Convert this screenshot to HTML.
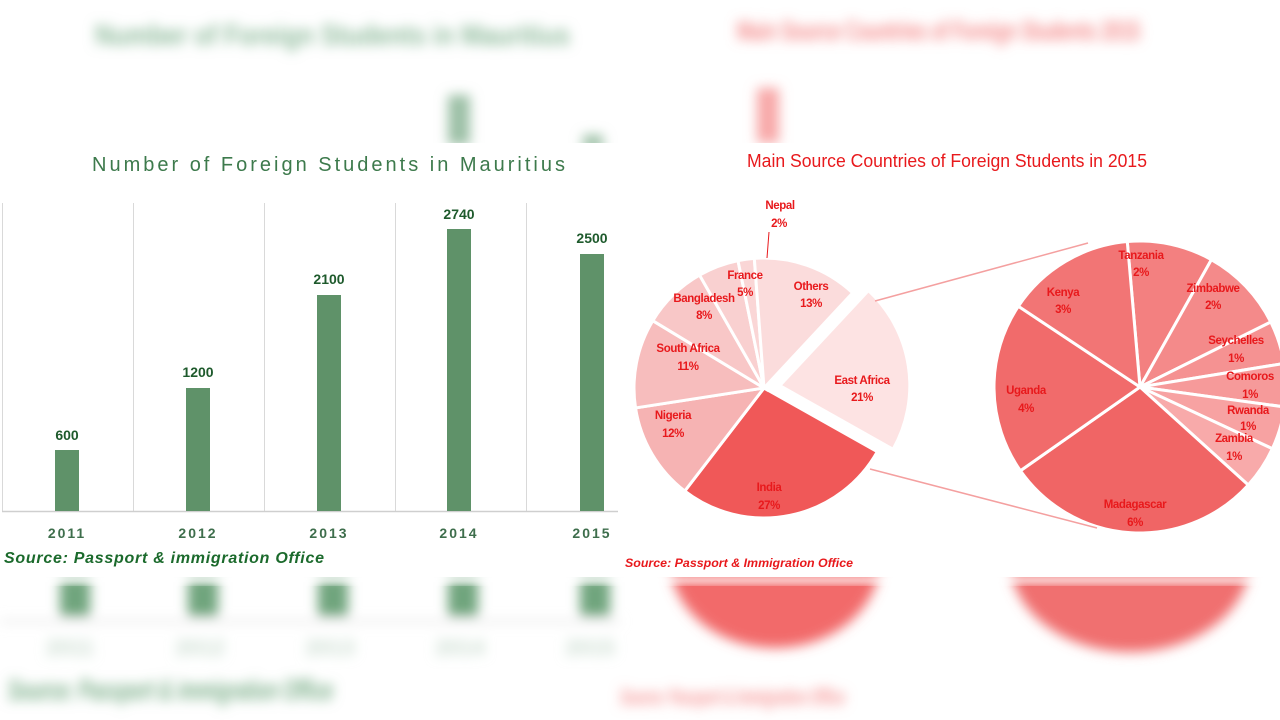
<!DOCTYPE html>
<html><head><meta charset="utf-8"><style>
html,body{margin:0;padding:0;background:#fff;width:1280px;height:720px;overflow:hidden;}
svg{position:absolute;left:0;top:0;}
.nar{font-family:"Liberation Sans Narrow","Liberation Sans",sans-serif;}
</style></head><body>
<svg width="1280" height="720" viewBox="0 0 1280 720" xmlns="http://www.w3.org/2000/svg">
<defs>
<filter id="b" x="-20%" y="-50%" width="140%" height="200%"><feGaussianBlur stdDeviation="6"/></filter>
<filter id="b2" x="-20%" y="-50%" width="140%" height="200%"><feGaussianBlur stdDeviation="4"/></filter>
</defs>
<g filter="url(#b)">
<text x="95" y="45" font-family="Liberation Sans" font-weight="bold" font-size="30" fill="#8fbb9c" textLength="475" lengthAdjust="spacingAndGlyphs">Number of Foreign Students in Mauritius</text>
<text x="737" y="40" font-family="Liberation Sans" font-weight="bold" font-size="28" fill="#f58a8a" textLength="403" lengthAdjust="spacingAndGlyphs">Main Source Countries of Foreign Students 2015</text>
<rect x="448" y="95" width="22" height="50" fill="#9cc0a6"/>
<rect x="583" y="135" width="20" height="15" fill="#9cc0a6"/>
<rect x="757" y="88" width="22" height="55" fill="#f8a8a8"/>
<rect x="60" y="578" width="30" height="38" fill="#6fa47d"/>
<rect x="188" y="578" width="30" height="38" fill="#6fa47d"/>
<rect x="318" y="578" width="30" height="38" fill="#6fa47d"/>
<rect x="448" y="578" width="30" height="38" fill="#6fa47d"/>
<rect x="580" y="578" width="30" height="38" fill="#6fa47d"/>
<rect x="0" y="620" width="620" height="3" fill="#e4e4e4"/>
<text x="70" y="655" text-anchor="middle" font-family="Liberation Sans" font-size="22" fill="#c9dccf" font-weight="bold">2011</text>
<text x="200" y="655" text-anchor="middle" font-family="Liberation Sans" font-size="22" fill="#c9dccf" font-weight="bold">2012</text>
<text x="330" y="655" text-anchor="middle" font-family="Liberation Sans" font-size="22" fill="#c9dccf" font-weight="bold">2013</text>
<text x="460" y="655" text-anchor="middle" font-family="Liberation Sans" font-size="22" fill="#c9dccf" font-weight="bold">2014</text>
<text x="590" y="655" text-anchor="middle" font-family="Liberation Sans" font-size="22" fill="#c9dccf" font-weight="bold">2015</text>
<text x="8" y="700" font-family="Liberation Sans" font-size="30" font-weight="bold" font-style="italic" fill="#7aae88" textLength="325" lengthAdjust="spacingAndGlyphs">Source: Passport &amp; immigration Office</text>
<ellipse cx="775" cy="560" rx="105" ry="88" fill="#f26a6a"/>
<ellipse cx="1130" cy="560" rx="120" ry="92" fill="#f06f6f"/>
<text x="620" y="705" font-family="Liberation Sans" font-size="24" font-weight="bold" font-style="italic" fill="#f79a9a" textLength="225" lengthAdjust="spacingAndGlyphs">Source: Passport &amp; Immigration Office</text>
</g>
<rect x="0" y="143" width="1280" height="434" fill="#fff"/>
<rect x="0" y="577" width="1280" height="6" fill="#fff" filter="url(#b2)"/>

<text x="92" y="171" font-family="Liberation Sans" font-size="20" fill="#3d7a4c" textLength="473">Number of Foreign Students in Mauritius</text>
<g stroke="#d9d9d9" stroke-width="1">
<line x1="2.5" y1="203" x2="2.5" y2="511"/>
<line x1="133.5" y1="203" x2="133.5" y2="511"/>
<line x1="264.5" y1="203" x2="264.5" y2="511"/>
<line x1="395.5" y1="203" x2="395.5" y2="511"/>
<line x1="526.5" y1="203" x2="526.5" y2="511"/>
</g>
<line x1="2" y1="511.5" x2="618" y2="511.5" stroke="#cfcfcf" stroke-width="1.5"/>
<g fill="#5f9269">
<rect x="55" y="450" width="24" height="61"/>
<rect x="186" y="388" width="24" height="123"/>
<rect x="317" y="295" width="24" height="216"/>
<rect x="447" y="229" width="24" height="282"/>
<rect x="580" y="254" width="24" height="257"/>
</g>
<g font-family="Liberation Sans" font-weight="bold" font-size="14" fill="#1e5a2c" text-anchor="middle">
<text x="67" y="440">600</text>
<text x="198" y="377">1200</text>
<text x="329" y="284">2100</text>
<text x="459" y="219">2740</text>
<text x="592" y="243">2500</text>
</g>
<g font-family="Liberation Sans" font-weight="bold" font-size="14" fill="#3e6e4c" text-anchor="middle" letter-spacing="2">
<text x="67" y="538">2011</text>
<text x="198" y="538">2012</text>
<text x="329" y="538">2013</text>
<text x="459" y="538">2014</text>
<text x="592" y="538">2015</text>
</g>
<text x="4" y="563" font-family="Liberation Sans" font-weight="bold" font-style="italic" font-size="16" fill="#1b6a2c" textLength="320">Source:  Passport  &amp; immigration Office</text>

<text x="747" y="167" class="nar" font-size="18" fill="#e8191c" textLength="400" lengthAdjust="spacingAndGlyphs">Main Source Countries of  Foreign Students in 2015</text>
<g id="p1"></g>
<g id="p2"></g>
<g stroke="#f4a0a0" stroke-width="1.5">
<line x1="875" y1="301" x2="1088" y2="243"/>
<line x1="870" y1="469" x2="1097" y2="528"/>
</g>
<line x1="767" y1="258" x2="769" y2="232" stroke="#e8191c" stroke-width="1"/>
<g class="nar" font-weight="bold" font-size="11.5" letter-spacing="-0.4" fill="#e8191c" text-anchor="middle">
<text x="780" y="209">Nepal</text><text x="779" y="227">2%</text>
<text x="745" y="279">France</text><text x="745" y="296">5%</text>
<text x="704" y="302">Bangladesh</text><text x="704" y="319">8%</text>
<text x="688" y="352">South Africa</text><text x="688" y="370">11%</text>
<text x="673" y="419">Nigeria</text><text x="673" y="437">12%</text>
<text x="769" y="491">India</text><text x="769" y="509">27%</text>
<text x="811" y="290">Others</text><text x="811" y="307">13%</text>
<text x="862" y="384">East Africa</text><text x="862" y="401">21%</text>
<text x="1141" y="259">Tanzania</text><text x="1141" y="276">2%</text>
<text x="1063" y="296">Kenya</text><text x="1063" y="313">3%</text>
<text x="1213" y="292">Zimbabwe</text><text x="1213" y="309">2%</text>
<text x="1236" y="344">Seychelles</text><text x="1236" y="362">1%</text>
<text x="1250" y="380">Comoros</text><text x="1250" y="398">1%</text>
<text x="1026" y="394">Uganda</text><text x="1026" y="412">4%</text>
<text x="1248" y="414">Rwanda</text><text x="1248" y="430">1%</text>
<text x="1234" y="442">Zambia</text><text x="1234" y="460">1%</text>
<text x="1135" y="508">Madagascar</text><text x="1135" y="526">6%</text>
</g>
<text x="625" y="567" class="nar" font-weight="bold" font-style="italic" font-size="12" fill="#e8191c" textLength="228" lengthAdjust="spacingAndGlyphs">Source:  Passport &amp; Immigration Office</text>
</svg>
<script>
function pie(gid,cx,cy,r,start,parts){
 var g=document.getElementById(gid),a=start,ns="http://www.w3.org/2000/svg";
 parts.forEach(function(p){
  var sw=p[0]*360,a1=a,a2=a+sw,ox=0,oy=0;
  if(p[2]){var m=(a1+a2)/2*Math.PI/180;ox=Math.cos(m)*p[2];oy=Math.sin(m)*p[2];}
  var x0=cx+ox,y0=cy+oy,r1=a1*Math.PI/180,r2=a2*Math.PI/180;
  var d="M"+x0+","+y0+"L"+(x0+r*Math.cos(r1))+","+(y0+r*Math.sin(r1))+"A"+r+","+r+" 0 "+(sw>180?1:0)+" 1 "+(x0+r*Math.cos(r2))+","+(y0+r*Math.sin(r2))+"Z";
  var e=document.createElementNS(ns,"path");e.setAttribute("d",d);e.setAttribute("fill",p[1]);
  e.setAttribute("stroke","#fff");e.setAttribute("stroke-width","3");g.appendChild(e);a=a2;
 });
}
var t=0.99;
pie("p1",764,388,130,-47,[[0.21/t,"#fde3e3",16],[0.27/t,"#f05858"],[0.12/t,"#f6b3b3"],[0.11/t,"#f7bdbd"],[0.08/t,"#f8c7c7"],[0.05/t,"#f9d0d0"],[0.02/t,"#fad6d6"],[0.13/t,"#fbdcdc"]]);
pie("p2",1140,387,146,-95,[[2/21,"#f38080"],[2/21,"#f48a8a"],[1/21,"#f59292"],[1/21,"#f69a9a"],[1/21,"#f7a2a2"],[1/21,"#f8aaaa"],[6/21,"#f06565"],[4/21,"#f16b6b"],[3/21,"#f27575"]]);
</script>
</body></html>
